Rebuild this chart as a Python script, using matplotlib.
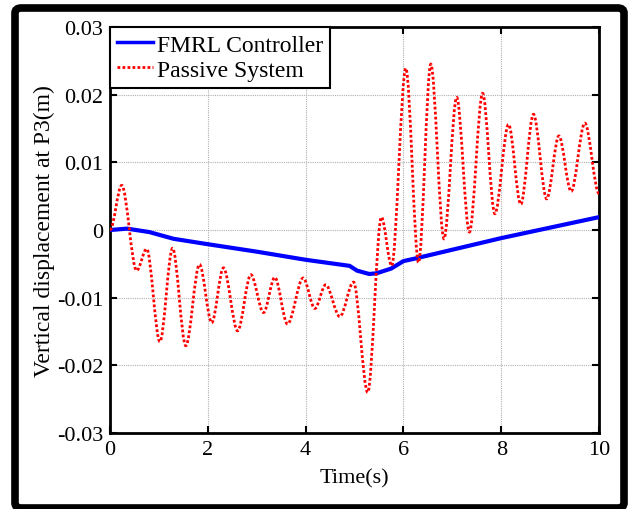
import matplotlib
matplotlib.use('Agg')
import matplotlib.pyplot as plt
from matplotlib.path import Path
from matplotlib.patches import PathPatch, FancyBboxPatch
from matplotlib.lines import Line2D

plt.rcParams['font.family'] = ['Liberation Serif', 'DejaVu Serif']

# FMRL controller response (key points)
fmrl_t = [0.0, 0.35, 0.8, 1.3, 2.0, 3.0, 4.0, 4.9, 5.05, 5.3, 5.45, 5.75, 6.0, 6.25, 8.0, 10.0]
fmrl_v = [0.0, 0.0002, -0.0003, -0.0013, -0.0021, -0.0032, -0.0044, -0.0053, -0.0060,
          -0.0065, -0.0064, -0.0057, -0.0046, -0.0042, -0.0012, 0.0019]

# passive system response: turning points
passive_t = [0.0, 0.24, 0.545, 0.75, 1.02, 1.28, 1.55, 1.83, 2.08, 2.32, 2.61, 2.88, 3.14,
             3.37, 3.63, 3.95, 4.19, 4.41, 4.70, 4.98, 5.27, 5.55, 5.76, 6.05, 6.31, 6.56,
             6.83, 7.09, 7.35, 7.62, 7.87, 8.15, 8.40, 8.66, 8.93, 9.18, 9.43, 9.71, 10.0]
passive_v = [0.0, 0.0066, -0.0060, -0.0028, -0.0165, -0.0027, -0.0171, -0.0051, -0.0137,
             -0.0056, -0.0149, -0.0066, -0.0122, -0.0070, -0.0139, -0.0071, -0.0116, -0.0081,
             -0.0128, -0.0077, -0.0240, 0.0019, -0.0053, 0.0239, -0.0048, 0.0245, -0.0013,
             0.0196, -0.0003, 0.0202, 0.0024, 0.0156, 0.0038, 0.0171, 0.0046, 0.0139, 0.0057,
             0.0158, 0.0054]

xticks = [0, 2, 4, 6, 8, 10]
yticks = [-0.03, -0.02, -0.01, 0, 0.01, 0.02, 0.03]
ytick_labels = ['-0.03', '-0.02', '-0.01', '0', '0.01', '0.02', '0.03']


def smooth_path(ts, vs):
    # cubic bezier through the turning points, flat at each of them
    verts = [(ts[0], vs[0])]
    codes = [Path.MOVETO]
    for i in range(1, len(ts)):
        dt = ts[i] - ts[i - 1]
        verts += [(ts[i - 1] + dt / 3, vs[i - 1]), (ts[i] - dt / 3, vs[i]), (ts[i], vs[i])]
        codes += [Path.CURVE4] * 3
    return Path(verts, codes)


fig = plt.figure(figsize=(6.29, 5.10), dpi=100)
ax = fig.add_axes([110 / 629, 1 - 434 / 510, 489 / 629, 406 / 510])

ax.plot(fmrl_t, fmrl_v, color='blue', lw=3, solid_joinstyle='round', zorder=3)
ax.add_patch(PathPatch(smooth_path(passive_t, passive_v), fill=False, edgecolor='red',
                       lw=2, linestyle=(0, (1, 0.8)), zorder=4))

ax.set_xlim(0, 10)
ax.set_ylim(-0.03, 0.03)
ax.set_xticks(xticks)
ax.set_yticks(yticks)
ax.set_yticklabels(ytick_labels)
ax.tick_params(direction='in', length=5, width=1.5, top=True, right=True, labelsize=16, pad=5)
ax.grid(True, color='#b0b0b0', linestyle=(0, (1, 1)), lw=0.8)
for s in ax.spines.values():
    s.set_linewidth(2)

ax.set_xlabel('Time(s)', fontsize=16, labelpad=7)
ax.set_ylabel('Vertical displacement at P3(m)', fontsize=17, labelpad=1)

handles = [Line2D([], [], color='blue', lw=2.5),
           Line2D([], [], color='red', lw=2, linestyle=(0, (1, 0.8)))]
leg = ax.legend(handles, ['FMRL Controller', 'Passive System'], loc='upper left',
                borderaxespad=0, fancybox=False, framealpha=1, edgecolor='black',
                prop={'family': 'Liberation Serif', 'size': 17}, handlelength=1.5,
                handletextpad=0.2, labelspacing=0.15, borderpad=0.3)
leg.get_frame().set_linewidth(1.5)
leg.set_zorder(10)

# thick black frame round the whole picture
frame = FancyBboxPatch((15 / 629, 1 / 510), 609 / 629, 500 / 510,
                       boxstyle='round,pad=0,rounding_size=0.01', transform=fig.transFigure,
                       fill=False, edgecolor='black', lw=5.5, clip_on=False)
fig.patches.append(frame)

fig.savefig('out.png', dpi=100)
